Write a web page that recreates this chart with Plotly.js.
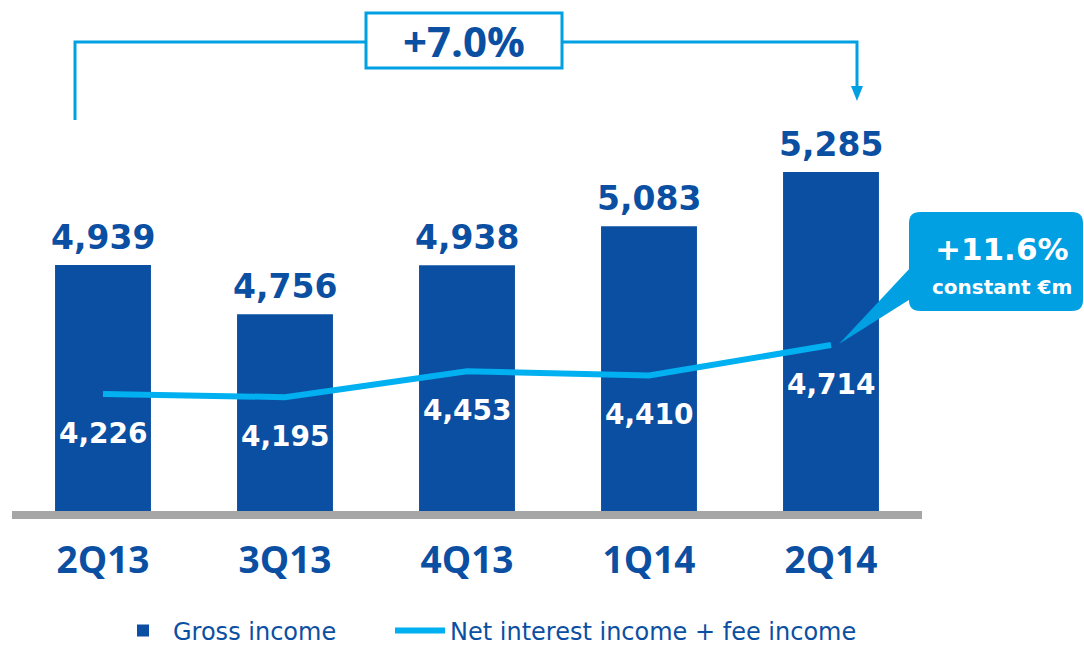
<!DOCTYPE html>
<html>
<head>
<meta charset="utf-8">
<script src="https://cdn.plot.ly/plotly-3.0.1.min.js"></script>
<style>html,body{margin:0;padding:0;background:#fff;}#chart{width:1084px;height:645px;}</style>
</head>
<body>
<div id="chart"></div>
<script>
const categories = ['2Q13', '3Q13', '4Q13', '1Q14', '2Q14'];
const grossIncome = [4939, 4756, 4938, 5083, 5285];
const netInterestFee = [4226, 4195, 4453, 4410, 4714];
const seriesNames = ['Gross income', 'Net interest income + fee income'];
const growthTotal = '+7.0%';
const growthConstant = '+11.6%';
const growthConstantNote = 'constant €m';

const DARK = '#0B4FA2';
const LIGHT = '#00B0F0';
const ACCENT = '#00A0E3';
const W = 1084, H = 645;
const M = {l: 12, r: 162, t: 10, b: 134, autoexpand: false};
const PW = W - M.l - M.r, PH = H - M.t - M.b;
const px = x => (x - M.l) / PW;
const py = y => (H - M.b - y) / PH;
const fmt = v => v.toLocaleString('en-US');

const traces = [
  {
    type: 'bar', name: seriesNames[0], x: categories, y: grossIncome,
    marker: {color: DARK}, yaxis: 'y', hoverinfo: 'x+y', legend: 'legend'
  },
  {
    type: 'scatter', mode: 'lines', name: seriesNames[1], x: categories, y: netInterestFee,
    line: {color: LIGHT, width: 6}, yaxis: 'y2', hoverinfo: 'x+y', legend: 'legend2'
  }
];

const annotations = [];
categories.forEach((c, i) => {
  annotations.push({
    x: c, y: grossIncome[i], xref: 'x', yref: 'y', text: fmt(grossIncome[i]),
    showarrow: false, yanchor: 'bottom', yshift: 6,
    font: {family: 'DejaVu Sans', size: 33, color: DARK, weight: 'bold'}
  });
  annotations.push({
    x: c, y: netInterestFee[i], xref: 'x', yref: 'y2', text: fmt(netInterestFee[i]),
    showarrow: false, yanchor: 'middle', yshift: -39,
    font: {family: 'DejaVu Sans', size: 28, color: '#ffffff', weight: 'bold'}
  });
});
annotations.push({
  x: px(464), y: py(41), xref: 'paper', yref: 'paper', text: growthTotal, showarrow: false,
  xanchor: 'center', yanchor: 'middle',
  font: {family: 'Open Sans', size: 42, color: DARK, weight: 'bold'}
});
annotations.push({
  x: px(1002), y: py(249), xref: 'paper', yref: 'paper', text: growthConstant, showarrow: false,
  xanchor: 'center', yanchor: 'middle',
  font: {family: 'DejaVu Sans', size: 31, color: '#ffffff', weight: 'bold'}
});
annotations.push({
  x: px(1002), y: py(287), xref: 'paper', yref: 'paper', text: growthConstantNote, showarrow: false,
  xanchor: 'center', yanchor: 'middle',
  font: {family: 'DejaVu Sans', size: 20, color: '#ffffff', weight: 'bold'}
});

function pathOf(points, close) {
  return points.map((p, i) => (i ? 'L' : 'M') + px(p[0]).toFixed(5) + ',' + py(p[1]).toFixed(5)).join(' ') + (close ? ' Z' : '');
}
function roundRect(x0, y0, x1, y1, r) {
  const P = (x, y) => px(x).toFixed(5) + ',' + py(y).toFixed(5);
  return 'M' + P(x0 + r, y0) + ' L' + P(x1 - r, y0) + ' Q' + P(x1, y0) + ' ' + P(x1, y0 + r) +
    ' L' + P(x1, y1 - r) + ' Q' + P(x1, y1) + ' ' + P(x1 - r, y1) +
    ' L' + P(x0 + r, y1) + ' Q' + P(x0, y1) + ' ' + P(x0, y1 - r) +
    ' L' + P(x0, y0 + r) + ' Q' + P(x0, y0) + ' ' + P(x0 + r, y0) + ' Z';
}

const lineStyle = {color: ACCENT, width: 3};
const shapes = [
  {type: 'path', xref: 'paper', yref: 'paper', path: pathOf([[75, 120], [75, 42], [366, 42]]), line: lineStyle},
  {type: 'path', xref: 'paper', yref: 'paper', path: pathOf([[562, 42], [857, 42], [857, 90]]), line: lineStyle},
  {type: 'path', xref: 'paper', yref: 'paper', path: pathOf([[851, 86], [863, 86], [857, 101]], true), line: {width: 0}, fillcolor: ACCENT},
  {type: 'rect', xref: 'paper', yref: 'paper', x0: px(366), x1: px(562), y0: py(13), y1: py(68), line: {color: ACCENT, width: 3}, fillcolor: '#ffffff'},
  {type: 'path', xref: 'paper', yref: 'paper', path: pathOf([[912, 266], [839, 344], [912, 298]], true), line: {width: 0}, fillcolor: ACCENT},
  {type: 'path', xref: 'paper', yref: 'paper', path: roundRect(909, 212, 1083, 311, 11), line: {width: 0}, fillcolor: ACCENT}
];

const legendBase = {
  orientation: 'h', xanchor: 'left', y: py(631), yanchor: 'middle',
  font: {family: 'DejaVu Sans', size: 24, color: DARK}, itemwidth: 50,
  maxheight: 200, bgcolor: 'rgba(0,0,0,0)'
};

const layout = {
  width: W, height: H,
  margin: M,
  paper_bgcolor: '#ffffff', plot_bgcolor: '#ffffff',
  bargap: 0.473,
  showlegend: true,
  legend: Object.assign({}, legendBase, {x: px(113)}),
  legend2: Object.assign({}, legendBase, {x: px(390)}),
  xaxis: {
    type: 'category', range: [-0.5, 4.5], showgrid: false, zeroline: false,
    showline: true, linecolor: '#A6A6A6', linewidth: 8, ticks: '',
    tickfont: {family: 'Open Sans', size: 37, color: DARK, weight: 'bold'},
    ticklabelstandoff: 10, fixedrange: true
  },
  yaxis: {range: [4024, 5888], visible: false, fixedrange: true},
  yaxis2: {range: [3061, 8051], visible: false, overlaying: 'y', fixedrange: true},
  annotations: annotations,
  shapes: shapes
};

Plotly.newPlot('chart', traces, layout, {displayModeBar: false, staticPlot: true});
</script>
</body>
</html>
